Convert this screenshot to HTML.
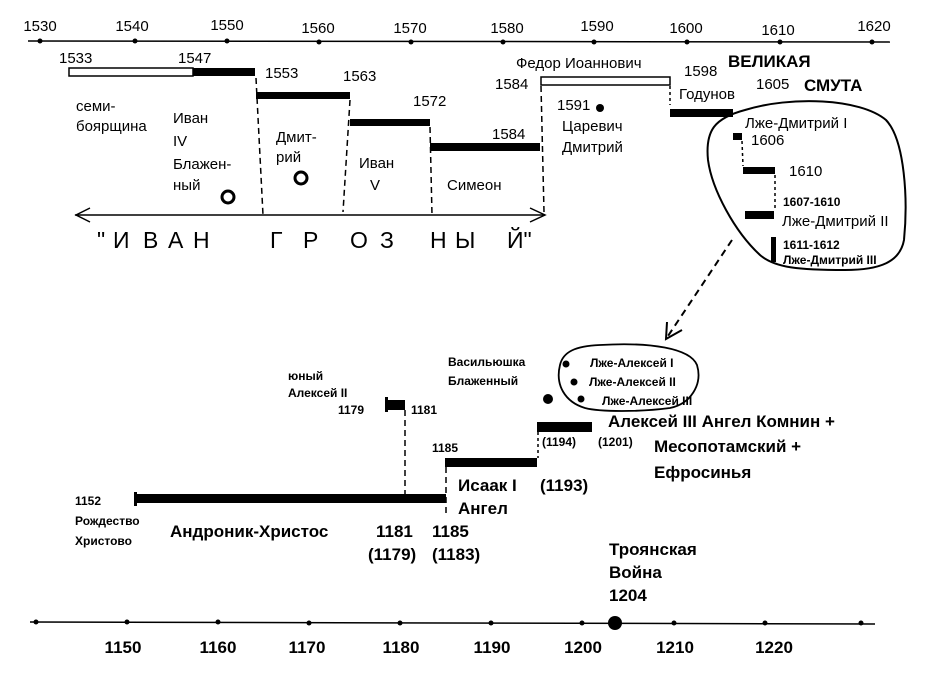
<!DOCTYPE html>
<html><head><meta charset="utf-8"><style>
html,body{margin:0;padding:0;background:#fff;}
svg{display:block;font-family:"Liberation Sans","DejaVu Sans",sans-serif;}
.b{font-weight:bold;}
</style></head><body>
<svg width="936" height="679" viewBox="0 0 936 679" xmlns="http://www.w3.org/2000/svg">
<g fill="#000" stroke="none">
<line x1="28" y1="41" x2="890" y2="42" stroke="#000" stroke-width="1.5"/>
<g>
<circle cx="40" cy="41" r="2.5"/><circle cx="135" cy="41" r="2.5"/><circle cx="227" cy="41" r="2.5"/><circle cx="319" cy="42" r="2.5"/><circle cx="411" cy="42" r="2.5"/><circle cx="503" cy="42" r="2.5"/><circle cx="594" cy="42" r="2.5"/><circle cx="687" cy="42" r="2.5"/><circle cx="780" cy="42" r="2.5"/><circle cx="872" cy="42" r="2.5"/>
</g>
<g font-size="15" text-anchor="middle">
<text x="40" y="31">1530</text><text x="132" y="31">1540</text><text x="227" y="30">1550</text><text x="318" y="33">1560</text><text x="410" y="33">1570</text><text x="507" y="33">1580</text><text x="597" y="31">1590</text><text x="686" y="33">1600</text><text x="778" y="35">1610</text><text x="874" y="31">1620</text>
</g>

<rect x="69" y="68" width="124" height="8" fill="#fff" stroke="#000" stroke-width="1.5"/>
<rect x="193" y="68" width="62" height="8"/>
<rect x="256" y="92" width="94" height="7"/>
<rect x="350" y="119" width="80" height="7"/>
<rect x="430" y="143" width="110" height="8"/>
<rect x="541" y="77" width="129" height="8" fill="#fff" stroke="#000" stroke-width="1.5"/>
<rect x="670" y="109" width="63" height="8"/>
<rect x="733" y="133" width="9" height="7"/>
<rect x="743" y="167" width="32" height="7"/>
<rect x="745" y="211" width="29" height="8"/>
<rect x="771" y="237" width="5" height="25"/>

<g stroke="#000" stroke-width="1.5" stroke-dasharray="6,4" fill="none">
<line x1="256" y1="78" x2="263" y2="215"/>
<line x1="350" y1="100" x2="343" y2="212"/>
<line x1="430" y1="127" x2="432" y2="215"/>
<line x1="541" y1="86" x2="544" y2="212"/>
<line x1="670" y1="86" x2="670" y2="105" stroke-dasharray="3,3"/>
<line x1="742" y1="141" x2="743" y2="166" stroke-dasharray="3,3"/>
<line x1="775" y1="175" x2="775" y2="210" stroke-dasharray="3,3"/>
<line x1="405" y1="410" x2="405" y2="494"/>
<line x1="446" y1="467" x2="446" y2="513"/>
<line x1="538" y1="432" x2="538" y2="458" stroke-dasharray="3,3"/>
</g>

<line x1="75" y1="215" x2="545" y2="215" stroke="#000" stroke-width="1.5"/>
<polyline points="90,208 76,215 90,222" fill="none" stroke="#000" stroke-width="1.5"/>
<polyline points="530,208 545,215 530,222" fill="none" stroke="#000" stroke-width="1.5"/>
<g font-size="23">
<text x="97" y="248">"</text><text x="113" y="248">И</text><text x="143" y="248">В</text><text x="168" y="248">А</text><text x="193" y="248">Н</text><text x="270" y="248">Г</text><text x="303" y="248">Р</text><text x="350" y="248">О</text><text x="380" y="248">З</text><text x="430" y="248">Н</text><text x="455" y="248">Ы</text><text x="507" y="248">Й"</text>
</g>

<g font-size="15">
<text x="59" y="63">1533</text><text x="178" y="63">1547</text><text x="265" y="78">1553</text><text x="343" y="81">1563</text><text x="413" y="106">1572</text><text x="492" y="139">1584</text>
<text x="76" y="111">семи-</text><text x="76" y="131">боярщина</text>
<text x="173" y="123">Иван</text><text x="173" y="146">IV</text><text x="173" y="169">Блажен-</text><text x="173" y="190">ный</text>
<text x="276" y="142">Дмит-</text><text x="276" y="162">рий</text>
<text x="359" y="168">Иван</text><text x="370" y="190">V</text>
<text x="447" y="190">Симеон</text>
<text x="516" y="68">Федор Иоаннович</text>
<text x="495" y="89">1584</text>
<text x="557" y="110">1591</text>
<text x="562" y="131">Царевич</text><text x="562" y="152">Дмитрий</text>
<text x="684" y="76">1598</text>
<text x="679" y="99">Годунов</text>
<text x="756" y="89">1605</text>
<text x="745" y="128">Лже-Дмитрий I</text>
<text x="751" y="145">1606</text>
<text x="789" y="176">1610</text>
<text x="782" y="226">Лже-Дмитрий II</text>
</g>
<g font-size="17" class="b"><text x="728" y="67">ВЕЛИКАЯ</text><text x="804" y="91">СМУТА</text></g>
<g font-size="12" class="b"><text x="783" y="206">1607-1610</text><text x="783" y="249">1611-1612</text><text x="783" y="264">Лже-Дмитрий III</text></g>
<circle cx="600" cy="108" r="4"/>
<circle cx="228" cy="197" r="6" fill="none" stroke="#000" stroke-width="3"/>
<circle cx="301" cy="178" r="6" fill="none" stroke="#000" stroke-width="3"/>

<path d="M745,110 C790,96 860,98 886,120 C905,140 908,200 904,240 C900,262 880,270 845,270 C800,270 775,268 760,255 C735,232 712,190 708,160 C705,130 715,118 745,110 Z" fill="none" stroke="#000" stroke-width="2"/>
<line x1="732" y1="240" x2="668" y2="336" stroke="#000" stroke-width="2" stroke-dasharray="7,5"/>
<polyline points="667,322 666,339 682,330" fill="none" stroke="#000" stroke-width="2"/>

<path d="M600,345 C650,342 690,348 697,365 C703,385 690,404 670,408 C640,412 600,412 585,408 C565,402 555,385 560,365 C563,352 575,346 600,345 Z" fill="none" stroke="#000" stroke-width="1.8"/>
<circle cx="566" cy="364" r="3.5"/><circle cx="574" cy="382" r="3.5"/><circle cx="581" cy="399" r="3.5"/><circle cx="548" cy="399" r="5"/>
<g font-size="12" class="b">
<text x="590" y="367">Лже-Алексей I</text><text x="589" y="386">Лже-Алексей II</text><text x="602" y="405">Лже-Алексей III</text>
<text x="448" y="366">Васильюшка</text><text x="448" y="385">Блаженный</text>
<text x="288" y="380">юный</text><text x="288" y="397">Алексей II</text>
<text x="338" y="414">1179</text><text x="411" y="414">1181</text>
<text x="432" y="452">1185</text>
<text x="542" y="446">(1194)</text><text x="598" y="446">(1201)</text>
<text x="75" y="505">1152</text><text x="75" y="525">Рождество</text><text x="75" y="545">Христово</text>
</g>
<rect x="135" y="494" width="311" height="9"/>
<rect x="134" y="492" width="3" height="14"/>
<rect x="386" y="400" width="19" height="10"/>
<rect x="385" y="397" width="3" height="15"/>
<rect x="445" y="458" width="92" height="9"/>
<rect x="537" y="422" width="55" height="10"/>
<g font-size="17" class="b">
<text x="170" y="537">Андроник-Христос</text>
<text x="376" y="537">1181</text><text x="432" y="537">1185</text>
<text x="368" y="560">(1179)</text><text x="432" y="560">(1183)</text>
<text x="458" y="491">Исаак I</text><text x="540" y="491">(1193)</text>
<text x="458" y="514">Ангел</text>
<text x="608" y="427">Алексей III Ангел Комнин +</text>
<text x="654" y="452">Месопотамский +</text>
<text x="654" y="478">Ефросинья</text>
<text x="609" y="555">Троянская</text>
<text x="609" y="578">Война</text>
<text x="609" y="601">1204</text>
</g>
<line x1="30" y1="622" x2="875" y2="624" stroke="#000" stroke-width="1.5"/>
<circle cx="36" cy="622" r="2.5"/><circle cx="127" cy="622" r="2.5"/><circle cx="218" cy="622" r="2.5"/><circle cx="309" cy="623" r="2.5"/><circle cx="400" cy="623" r="2.5"/><circle cx="491" cy="623" r="2.5"/><circle cx="582" cy="623" r="2.5"/><circle cx="674" cy="623" r="2.5"/><circle cx="765" cy="623" r="2.5"/><circle cx="861" cy="623" r="2.5"/>
<circle cx="615" cy="623" r="7"/>
<g font-size="17" class="b" text-anchor="middle">
<text x="123" y="653">1150</text><text x="218" y="653">1160</text><text x="307" y="653">1170</text><text x="401" y="653">1180</text><text x="492" y="653">1190</text><text x="583" y="653">1200</text><text x="675" y="653">1210</text><text x="774" y="653">1220</text>
</g>
</g>
</svg>
</body></html>
